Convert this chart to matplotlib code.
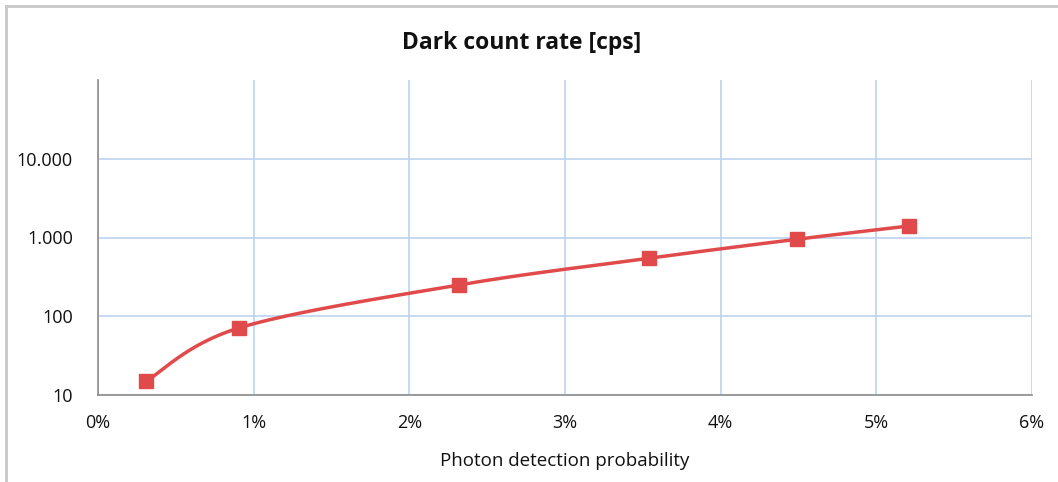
import numpy as np
import matplotlib
matplotlib.use('Agg')
import matplotlib.pyplot as plt
from matplotlib.ticker import FuncFormatter, FixedLocator

# data
pdp = [0.31, 0.905, 2.32, 3.54, 4.49, 5.21]       # photon detection probability [%]
dcr = [15, 71, 250, 545, 950, 1400]               # dark count rate [cps]
x_ticks = [0, 1, 2, 3, 4, 5, 6]
y_ticks = [10, 100, 1000, 10000]

font = 'Open Sans'
red = '#e04a4a'
grid_c = '#bcd3ef'


def catmull_rom(x, y, n=40):
    # smooth curve through the points (like spreadsheet "smoothed line")
    p = np.column_stack([x, y])
    p = np.vstack([p[0], p, p[-1]])
    out = []
    for i in range(1, len(p) - 2):
        p0, p1, p2, p3 = p[i - 1], p[i], p[i + 1], p[i + 2]
        t = np.linspace(0, 1, n)[:, None]
        c = 0.5 * ((2 * p1) + (-p0 + p2) * t + (2 * p0 - 5 * p1 + 4 * p2 - p3) * t**2
                   + (-p0 + 3 * p1 - 3 * p2 + p3) * t**3)
        out.append(c)
    out = np.vstack(out)
    return out[:, 0], out[:, 1]


fig = plt.figure(figsize=(10.58, 4.82), dpi=100)
ax = fig.add_axes([98/1058, 1-395/482, (1032-98)/1058, (395-80)/482])

# smooth in (x, log y) space with x scaled to a similar range
xs, ys = catmull_rom(np.array(pdp) / 6.0 * 4, np.log10(dcr))
ax.plot(xs * 6.0 / 4, 10**ys, color=red, lw=2.5, zorder=3, solid_capstyle='round')
ax.plot(pdp, dcr, ls='none', marker='s', ms=10, color=red, zorder=4)

ax.set_yscale('log')
ax.set_xlim(0, 6)
ax.set_ylim(10, 100000)
ax.yaxis.set_major_locator(FixedLocator(y_ticks))
ax.yaxis.set_minor_locator(FixedLocator([]))
ax.set_xticks(x_ticks)
ax.xaxis.set_major_formatter(FuncFormatter(lambda v, p: '%d%%' % v))
ax.yaxis.set_major_formatter(FuncFormatter(lambda v, p: '{:,}'.format(int(v)).replace(',', '.')))

ax.grid(True, color=grid_c, lw=1.2, zorder=0)
ax.set_axisbelow(True)
for s in ['top', 'right']:
    ax.spines[s].set_visible(False)
for s in ['left', 'bottom']:
    ax.spines[s].set_color('#8c8c8c')
    ax.spines[s].set_linewidth(1.2)
ax.tick_params(axis='x', length=0, pad=14, labelsize=13, labelcolor='#111111')
ax.tick_params(axis='y', length=0, pad=18, labelsize=13, labelcolor='#111111')
for lab in ax.get_xticklabels() + ax.get_yticklabels():
    lab.set_fontfamily(font)

ax.set_xlabel('Photon detection probability', fontsize=13.5, family=font, labelpad=14, color='#111111')
fig.text(522/1058, 1-43/482, 'Dark count rate [cps]', ha='center', va='center',
         fontsize=16.5, fontweight='bold', family=font, color='#111111')

# chart-area frame (left and top edges visible in the reference)
fig.add_artist(plt.Line2D([6/1058, 6/1058], [0, 1-6/482], color='#c8c8c8', lw=2, transform=fig.transFigure))
fig.add_artist(plt.Line2D([6/1058, 1], [1-6/482, 1-6/482], color='#c8c8c8', lw=2, transform=fig.transFigure))

fig.savefig('out.png', dpi=100)
